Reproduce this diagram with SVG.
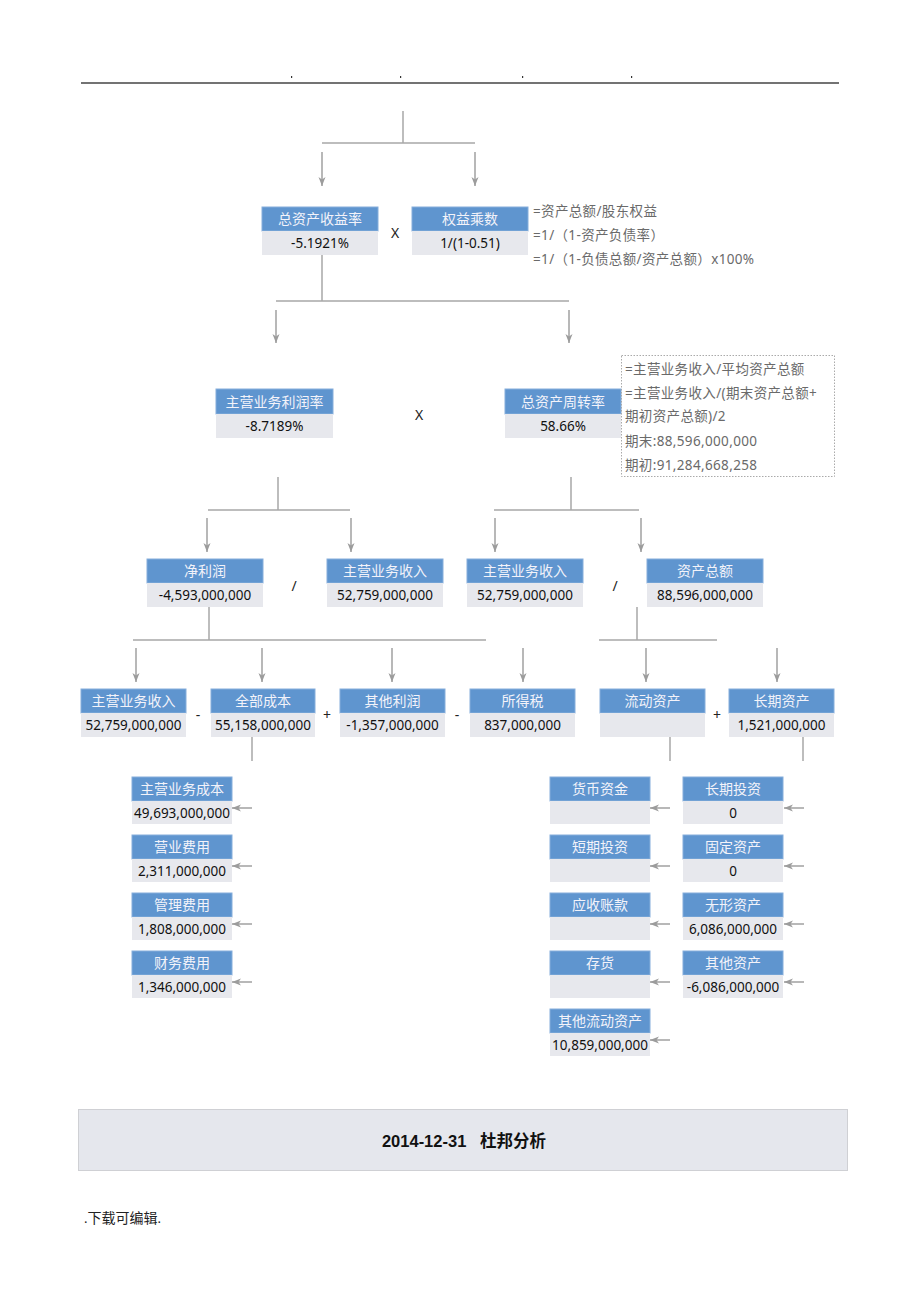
<svg xmlns="http://www.w3.org/2000/svg" width="920" height="1302" viewBox="0 0 920 1302">
<defs>
<marker id="ad" markerWidth="10" markerHeight="8" refX="9" refY="4" orient="auto" markerUnits="userSpaceOnUse">
<path d="M0,0.5 L9,4 L0,7.5 L2.5,4 z" fill="#9c9c9c"/>
</marker>
<style>
.hd{fill:#5f95cf;stroke:#86aedb;stroke-width:1}
.vl{fill:#e7e8ed}
.ht{font-family:"Noto Sans CJK SC",sans-serif;font-size:14px;fill:#f3f3fa;text-anchor:middle}
.vt{font-family:"Noto Sans","Noto Sans CJK SC",sans-serif;font-size:13.5px;fill:#111;text-anchor:middle}
.ln{stroke:#a8a8a8;stroke-width:1.5;fill:none}
.ar{stroke:#a0a0a0;stroke-width:1.5;fill:none;marker-end:url(#ad)}
.an{font-family:"Noto Sans","Noto Sans CJK SC",sans-serif;font-size:13.5px;letter-spacing:0.35px;fill:#6a6a6a}
.op{font-family:"Noto Sans",sans-serif;font-size:14px;fill:#222;text-anchor:middle}
</style>
</defs>
<rect width="920" height="1302" fill="#fff"/>

<g id="page-header">
<line x1="81" y1="83" x2="839" y2="83" stroke="#444" stroke-width="1.6"/>
<rect x="291" y="76" width="1.2" height="2" fill="#333"/>
<rect x="400" y="76" width="1.2" height="2" fill="#333"/>
<rect x="522" y="76" width="1.2" height="2" fill="#333"/>
<rect x="631" y="76" width="1.2" height="2" fill="#333"/>
</g>

<g id="connectors">
<path class="ln" d="M403,111 V143 M322,143 H475"/>
<line class="ar" x1="322" y1="152" x2="322" y2="186"/>
<line class="ar" x1="475" y1="152" x2="475" y2="186"/>
<path class="ln" d="M322,255 V301 M276,301 H569"/>
<line class="ar" x1="276" y1="310" x2="276" y2="343"/>
<line class="ar" x1="569" y1="310" x2="569" y2="343"/>
<path class="ln" d="M278,477 V510 M208,510 H350"/>
<line class="ar" x1="207" y1="518" x2="207" y2="552"/>
<line class="ar" x1="351" y1="518" x2="351" y2="552"/>
<path class="ln" d="M571,477 V510 M494,510 H639"/>
<line class="ar" x1="495" y1="518" x2="495" y2="552"/>
<line class="ar" x1="641" y1="518" x2="641" y2="552"/>
<path class="ln" d="M209,607 V640 M133,640 H486"/>
<line class="ar" x1="136" y1="648" x2="136" y2="682"/>
<line class="ar" x1="262" y1="648" x2="262" y2="682"/>
<line class="ar" x1="392" y1="648" x2="392" y2="682"/>
<line class="ar" x1="523" y1="648" x2="523" y2="682"/>
<path class="ln" d="M637,607 V640 M599,640 H717"/>
<line class="ar" x1="646" y1="648" x2="646" y2="682"/>
<line class="ar" x1="777" y1="648" x2="777" y2="682"/>
<path class="ln" d="M252,737 V761 M670,737 V761 M803,737 V761"/>
<line class="ar" x1="252" y1="808" x2="232" y2="808"/>
<line class="ar" x1="252" y1="866" x2="232" y2="866"/>
<line class="ar" x1="252" y1="924" x2="232" y2="924"/>
<line class="ar" x1="252" y1="982" x2="232" y2="982"/>
<line class="ar" x1="670" y1="808" x2="650" y2="808"/>
<line class="ar" x1="670" y1="866" x2="650" y2="866"/>
<line class="ar" x1="670" y1="924" x2="650" y2="924"/>
<line class="ar" x1="670" y1="982" x2="650" y2="982"/>
<line class="ar" x1="670" y1="1040" x2="650" y2="1040"/>
<line class="ar" x1="804" y1="808" x2="784" y2="808"/>
<line class="ar" x1="804" y1="866" x2="784" y2="866"/>
<line class="ar" x1="804" y1="924" x2="784" y2="924"/>
<line class="ar" x1="804" y1="982" x2="784" y2="982"/>
</g>

<g id="operators">
<text class="op" x="395" y="238">X</text>
<text class="op" x="419" y="420">X</text>
<text class="op" x="294" y="591">/</text>
<text class="op" x="615" y="591">/</text>
<text class="op" x="198" y="720">-</text>
<text class="op" x="327" y="720">+</text>
<text class="op" x="457" y="720">-</text>
<text class="op" x="717" y="720">+</text>
</g>

<g id="roa">
<rect class="hd" x="262" y="207" width="116" height="24"/><rect class="vl" x="262" y="231" width="116" height="24"/>
<text class="ht" x="320" y="224">总资产收益率</text><text class="vt" x="320" y="248">-5.1921%</text>
</g>
<g id="equity-multiplier">
<rect class="hd" x="412" y="207" width="116" height="24"/><rect class="vl" x="412" y="231" width="116" height="24"/>
<text class="ht" x="470" y="224">权益乘数</text><text class="vt" x="470" y="248">1/(1-0.51)</text>
</g>
<g id="equity-note">
<text class="an" x="533" y="216">=资产总额/股东权益</text>
<text class="an" x="533" y="240">=1/（1-资产负债率）</text>
<text class="an" x="533" y="264">=1/（1-负债总额/资产总额）x100%</text>
</g>

<g id="profit-margin">
<rect class="hd" x="216" y="389" width="117" height="25"/><rect class="vl" x="216" y="414" width="117" height="24"/>
<text class="ht" x="274.5" y="407">主营业务利润率</text><text class="vt" x="274.5" y="431">-8.7189%</text>
</g>
<g id="asset-turnover">
<rect class="hd" x="505" y="389" width="116" height="25"/><rect class="vl" x="505" y="414" width="116" height="24"/>
<text class="ht" x="563" y="407">总资产周转率</text><text class="vt" x="563" y="431">58.66%</text>
</g>
<g id="turnover-note">
<rect x="621.5" y="355.5" width="213" height="121" fill="none" stroke="#aaa" stroke-width="1" stroke-dasharray="1.5,1.5"/>
<text class="an" x="625" y="374">=主营业务收入/平均资产总额</text>
<text class="an" x="625" y="398">=主营业务收入/(期末资产总额+</text>
<text class="an" x="625" y="421">期初资产总额)/2</text>
<text class="an" x="625" y="446">期末:88,596,000,000</text>
<text class="an" x="625" y="470">期初:91,284,668,258</text>
</g>

<g id="net-profit">
<rect class="hd" x="147" y="559" width="116" height="24"/><rect class="vl" x="147" y="583" width="116" height="24"/>
<text class="ht" x="205" y="576">净利润</text><text class="vt" x="205" y="600">-4,593,000,000</text>
</g>
<g id="revenue-a">
<rect class="hd" x="327" y="559" width="116" height="24"/><rect class="vl" x="327" y="583" width="116" height="24"/>
<text class="ht" x="385" y="576">主营业务收入</text><text class="vt" x="385" y="600">52,759,000,000</text>
</g>
<g id="revenue-b">
<rect class="hd" x="467" y="559" width="116" height="24"/><rect class="vl" x="467" y="583" width="116" height="24"/>
<text class="ht" x="525" y="576">主营业务收入</text><text class="vt" x="525" y="600">52,759,000,000</text>
</g>
<g id="total-assets">
<rect class="hd" x="647" y="559" width="116" height="24"/><rect class="vl" x="647" y="583" width="116" height="24"/>
<text class="ht" x="705" y="576">资产总额</text><text class="vt" x="705" y="600">88,596,000,000</text>
</g>

<g id="revenue-c">
<rect class="hd" x="81" y="689" width="105" height="24"/><rect class="vl" x="81" y="713" width="105" height="24"/>
<text class="ht" x="133.5" y="706">主营业务收入</text><text class="vt" x="133.5" y="730">52,759,000,000</text>
</g>
<g id="total-cost">
<rect class="hd" x="211" y="689" width="104" height="24"/><rect class="vl" x="211" y="713" width="104" height="24"/>
<text class="ht" x="263" y="706">全部成本</text><text class="vt" x="263" y="730">55,158,000,000</text>
</g>
<g id="other-profit">
<rect class="hd" x="340" y="689" width="105" height="24"/><rect class="vl" x="340" y="713" width="105" height="24"/>
<text class="ht" x="392.5" y="706">其他利润</text><text class="vt" x="392.5" y="730">-1,357,000,000</text>
</g>
<g id="income-tax">
<rect class="hd" x="470" y="689" width="105" height="24"/><rect class="vl" x="470" y="713" width="105" height="24"/>
<text class="ht" x="522.5" y="706">所得税</text><text class="vt" x="522.5" y="730">837,000,000</text>
</g>
<g id="current-assets">
<rect class="hd" x="600" y="689" width="105" height="24"/><rect class="vl" x="600" y="713" width="105" height="24"/>
<text class="ht" x="652.5" y="706">流动资产</text>
</g>
<g id="long-term-assets">
<rect class="hd" x="729" y="689" width="105" height="24"/><rect class="vl" x="729" y="713" width="105" height="24"/>
<text class="ht" x="781.5" y="706">长期资产</text><text class="vt" x="781.5" y="730">1,521,000,000</text>
</g>

<g id="cost-of-sales">
<rect class="hd" x="132" y="777" width="100" height="24"/><rect class="vl" x="132" y="801" width="100" height="23"/>
<text class="ht" x="182" y="794">主营业务成本</text><text class="vt" x="182" y="818">49,693,000,000</text>
</g>
<g id="selling-expense">
<rect class="hd" x="132" y="835" width="100" height="24"/><rect class="vl" x="132" y="859" width="100" height="23"/>
<text class="ht" x="182" y="852">营业费用</text><text class="vt" x="182" y="876">2,311,000,000</text>
</g>
<g id="admin-expense">
<rect class="hd" x="132" y="893" width="100" height="24"/><rect class="vl" x="132" y="917" width="100" height="23"/>
<text class="ht" x="182" y="910">管理费用</text><text class="vt" x="182" y="934">1,808,000,000</text>
</g>
<g id="finance-expense">
<rect class="hd" x="132" y="951" width="100" height="24"/><rect class="vl" x="132" y="975" width="100" height="23"/>
<text class="ht" x="182" y="968">财务费用</text><text class="vt" x="182" y="992">1,346,000,000</text>
</g>

<g id="cash">
<rect class="hd" x="550" y="777" width="100" height="24"/><rect class="vl" x="550" y="801" width="100" height="23"/>
<text class="ht" x="600" y="794">货币资金</text>
</g>
<g id="short-investment">
<rect class="hd" x="550" y="835" width="100" height="24"/><rect class="vl" x="550" y="859" width="100" height="23"/>
<text class="ht" x="600" y="852">短期投资</text>
</g>
<g id="receivables">
<rect class="hd" x="550" y="893" width="100" height="24"/><rect class="vl" x="550" y="917" width="100" height="23"/>
<text class="ht" x="600" y="910">应收账款</text>
</g>
<g id="inventory">
<rect class="hd" x="550" y="951" width="100" height="24"/><rect class="vl" x="550" y="975" width="100" height="23"/>
<text class="ht" x="600" y="968">存货</text>
</g>
<g id="other-current">
<rect class="hd" x="550" y="1009" width="100" height="24"/><rect class="vl" x="550" y="1033" width="100" height="23"/>
<text class="ht" x="600" y="1026">其他流动资产</text><text class="vt" x="600" y="1050">10,859,000,000</text>
</g>

<g id="long-investment">
<rect class="hd" x="683" y="777" width="100" height="24"/><rect class="vl" x="683" y="801" width="100" height="23"/>
<text class="ht" x="733" y="794">长期投资</text><text class="vt" x="733" y="818">0</text>
</g>
<g id="fixed-assets">
<rect class="hd" x="683" y="835" width="100" height="24"/><rect class="vl" x="683" y="859" width="100" height="23"/>
<text class="ht" x="733" y="852">固定资产</text><text class="vt" x="733" y="876">0</text>
</g>
<g id="intangible-assets">
<rect class="hd" x="683" y="893" width="100" height="24"/><rect class="vl" x="683" y="917" width="100" height="23"/>
<text class="ht" x="733" y="910">无形资产</text><text class="vt" x="733" y="934">6,086,000,000</text>
</g>
<g id="other-assets">
<rect class="hd" x="683" y="951" width="100" height="24"/><rect class="vl" x="683" y="975" width="100" height="23"/>
<text class="ht" x="733" y="968">其他资产</text><text class="vt" x="733" y="992">-6,086,000,000</text>
</g>

<g id="title-bar">
<rect x="78.5" y="1109.5" width="769" height="61" fill="#e5e7ed" stroke="#cfd0d4" stroke-width="1"/>
<text x="464" y="1147" text-anchor="middle" font-family="Liberation Sans, Noto Sans CJK SC, sans-serif" font-weight="bold" font-size="16.5" fill="#111" xml:space="preserve">2014-12-31   杜邦分析</text>
</g>
<g id="footer">
<text x="84" y="1223" font-family="Liberation Serif, Noto Sans CJK SC, serif" font-size="14" fill="#222">.下载可编辑.</text>
</g>
</svg>
